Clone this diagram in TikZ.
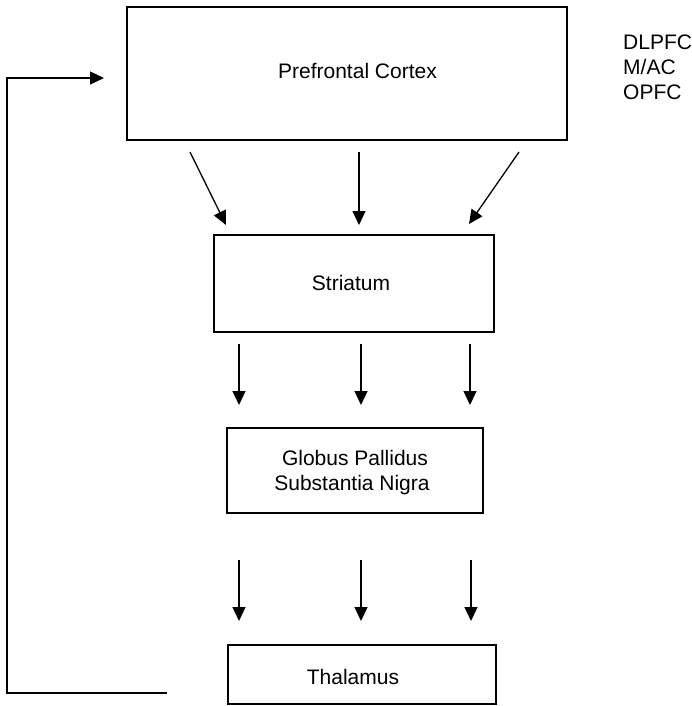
\documentclass[tikz,border=0pt]{standalone}
\usepackage{fontspec}
\setmainfont{Liberation Sans}
\usetikzlibrary{arrows.meta}
\begin{document}
\begin{tikzpicture}[x=1pt,y=-1pt,
  boxnode/.style={draw, line width=1.4pt, minimum width=#1, inner sep=0pt},
  lbl/.style={anchor=base, font=\fontsize{21}{25}\selectfont, inner sep=0pt},
  arr/.style={line width=1.3pt, -{Triangle[length=14pt,width=13pt]}}]
\useasboundingbox (0,0) rectangle (692,706);
% boxes
\node[draw, line width=1.4pt, minimum width=440pt, minimum height=133pt, inner sep=0pt] (pfc) at (347,73.5) {};
\node[draw, line width=1.4pt, minimum width=280pt, minimum height=97pt, inner sep=0pt] (str) at (354,283.5) {};
\node[draw, line width=1.4pt, minimum width=256pt, minimum height=85pt, inner sep=0pt] (gp) at (355,470.5) {};
\node[draw, line width=1.4pt, minimum width=268pt, minimum height=59pt, inner sep=0pt] (thal) at (362,674.5) {};
% texts
\node[lbl] (pfct) at (357.5,79) {Prefrontal Cortex};
\node[lbl] (strt) at (351,290) {Striatum};
\node[lbl] (gpt1) at (355,465) {Globus Pallidus};
\node[lbl] (gpt2) at (352,490) {Substantia Nigra};
\node[lbl] (thalt) at (353,684) {Thalamus};
\node[lbl, anchor=base west] (dl) at (623,50) {DLPFC};
\node[lbl, anchor=base west] (mac) at (623,75) {M/AC};
\node[lbl, anchor=base west] (opfc) at (623,100) {OPFC};
% arrow endpoints
\coordinate (a1s) at (190,152); \coordinate (a1e) at (226,225);
\coordinate (a2s) at (359,152); \coordinate (a2e) at (359,225);
\coordinate (a3s) at (519,152); \coordinate (a3e) at (469,224);
\coordinate (b1s) at (239,344); \coordinate (b1e) at (239,405);
\coordinate (b2s) at (361,344); \coordinate (b2e) at (361,405);
\coordinate (b3s) at (470,344); \coordinate (b3e) at (470,405);
\coordinate (c1s) at (239,560); \coordinate (c1e) at (239,621);
\coordinate (c2s) at (361,560); \coordinate (c2e) at (361,621);
\coordinate (c3s) at (471,560); \coordinate (c3e) at (471,621);
\draw[arr] (a1s) -- (a1e);
\draw[arr] (a2s) -- (a2e);
\draw[arr] (a3s) -- (a3e);
\draw[arr] (b1s) -- (b1e);
\draw[arr] (b2s) -- (b2e);
\draw[arr] (b3s) -- (b3e);
\draw[arr] (c1s) -- (c1e);
\draw[arr] (c2s) -- (c2e);
\draw[arr] (c3s) -- (c3e);
% feedback loop
\coordinate (fbs) at (167,693);
\coordinate (fbe) at (104,78);
\draw[line width=1.3pt, -{Triangle[length=14pt,width=13pt]}] (fbs) -- (7,693) -- (7,78) -- (fbe);
\end{tikzpicture}
\end{document}
